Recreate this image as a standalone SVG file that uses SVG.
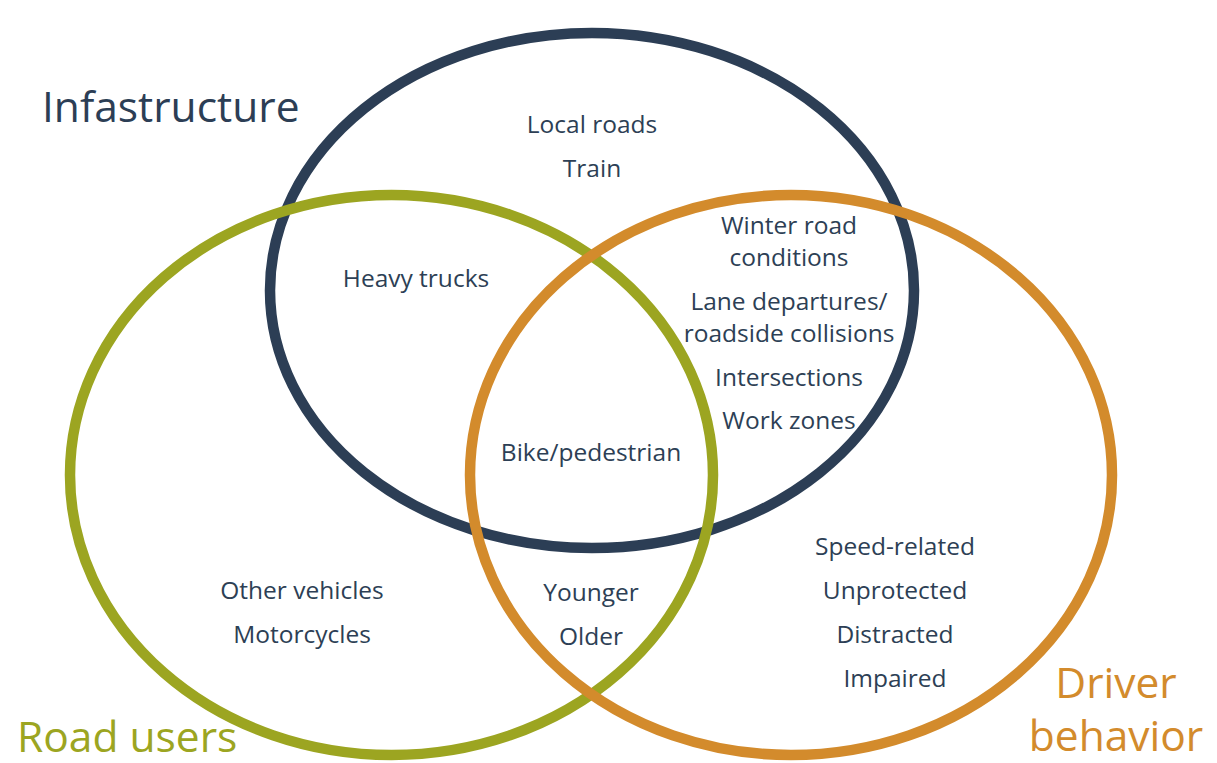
<svg xmlns="http://www.w3.org/2000/svg" width="1217" height="763" viewBox="0 0 1217 763">
<style>
.ring{fill:none;stroke-width:10.5}
.t{font-family:"Open Sans","Noto Sans","Liberation Sans",sans-serif;font-size:24.5px;fill:#2d3f55;text-anchor:middle}
.big{font-family:"Open Sans","Noto Sans","Liberation Sans",sans-serif;font-size:42.5px}
</style>
<rect width="1217" height="763" fill="#ffffff"/>
<g id="connectors"/>
<g id="infrastructure">
<ellipse class="ring" cx="592" cy="290.5" rx="322" ry="257.5" stroke="#2c3e55"/>
<text class="big" x="42" y="122" fill="#2c3e55">Infastructure</text>
</g>
<g id="road-users">
<ellipse class="ring" cx="391.5" cy="475" rx="321.5" ry="280" stroke="#9ca521"/>
<text class="big" x="17" y="752" fill="#9ca521">Road users</text>
</g>
<g id="driver-behavior">
<ellipse class="ring" cx="791" cy="475" rx="321" ry="280" stroke="#d38b2c"/>
<text class="big" x="1116" y="698" fill="#d38b2c" text-anchor="middle">Driver</text>
<text class="big" x="1116" y="751" fill="#d38b2c" text-anchor="middle">behavior</text>
</g>
<g id="labels">
<text class="t" x="592" y="133">Local roads</text>
<text class="t" x="592" y="177">Train</text>
<text class="t" x="416" y="287">Heavy trucks</text>
<text class="t" x="789" y="234">Winter road</text>
<text class="t" x="789" y="266">conditions</text>
<text class="t" x="789" y="310">Lane departures/</text>
<text class="t" x="789" y="342">roadside collisions</text>
<text class="t" x="789" y="386">Intersections</text>
<text class="t" x="789" y="429">Work zones</text>
<text class="t" x="591" y="461">Bike/pedestrian</text>
<text class="t" x="895" y="555">Speed-related</text>
<text class="t" x="895" y="599">Unprotected</text>
<text class="t" x="895" y="643">Distracted</text>
<text class="t" x="895" y="687">Impaired</text>
<text class="t" x="302" y="599">Other vehicles</text>
<text class="t" x="302" y="643">Motorcycles</text>
<text class="t" x="591" y="601">Younger</text>
<text class="t" x="591" y="645">Older</text>
</g>
</svg>
